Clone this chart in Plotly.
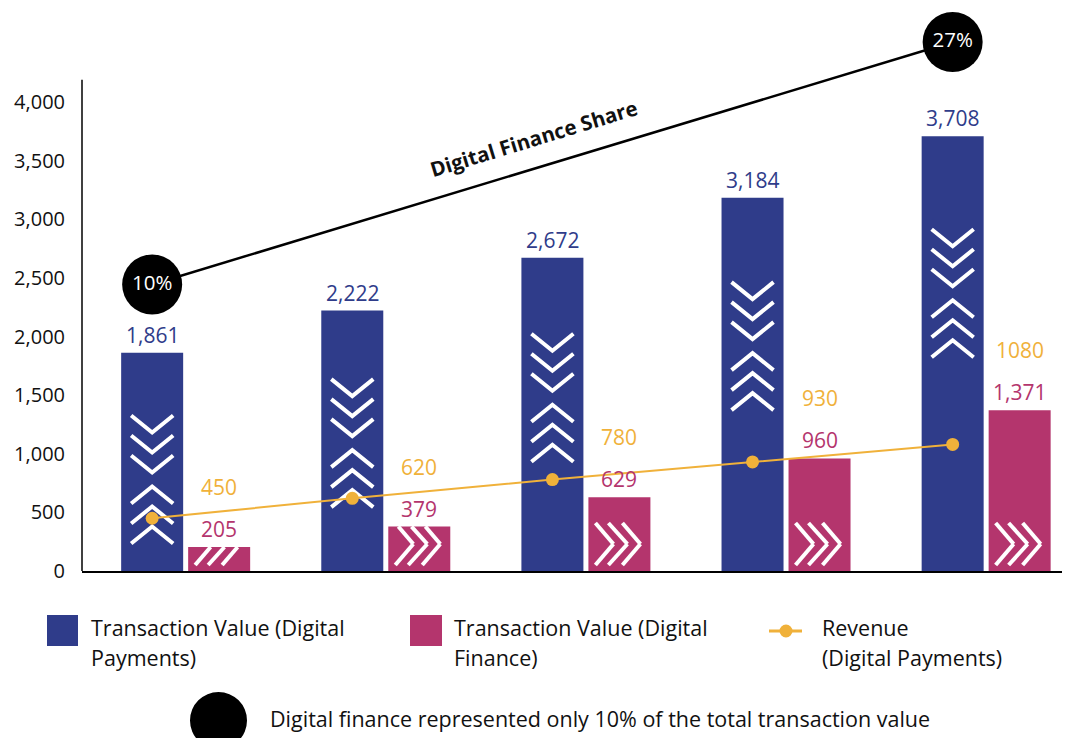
import plotly.graph_objects as go

# ---------------- data ----------------
digital_payments = [1861, 2222, 2672, 3184, 3708]   # Transaction Value (Digital Payments)
digital_finance = [205, 379, 629, 960, 1371]        # Transaction Value (Digital Finance)
revenue = [450, 620, 780, 930, 1080]                # Revenue (Digital Payments)
share_labels = ["10%", "27%"]                       # Digital finance share
share_idx = [0, 4]
y_ticks = [0, 500, 1000, 1500, 2000, 2500, 3000, 3500, 4000]

legend_blue = ["Transaction Value (Digital", "Payments)"]
legend_magenta = ["Transaction Value (Digital", "Finance)"]
legend_rev = ["Revenue", "(Digital Payments)"]
legend_note = "Digital finance represented only 10% of the total transaction value"
share_title = "Digital Finance Share"

# ---------------- style ----------------
BLUE = "#2F3C8A"
MAGENTA = "#B4356D"
ORANGE = "#F0B13A"
FONT = "Open Sans"

OFF = 8                       # page body margin
W, H = 1070 - OFF, 738 - OFF
ML, MR, MT = 82 - OFF, 0, 20 - OFF
MB = H - (571 - OFF)
XR = [-0.518, 4.419]
YR = [0, 4700]
PW = W - ML - MR
PH = H - MT - MB
UX = (XR[1] - XR[0]) / PW   # x units per pixel
UY = (YR[1] - YR[0]) / PH   # y units per pixel


def pxx(p):  # window pixel -> paper x
    return (p - OFF - ML) / PW


def pxy(p):  # window pixel -> paper y
    return (H - MB - (p - OFF)) / PH


BAR_W = 62 * UX
GAP = 5 * UX
x = list(range(len(digital_payments)))
xb = [i - (GAP / 2 + BAR_W / 2) for i in x]
xm = [i + (GAP / 2 + BAR_W / 2) for i in x]

fig = go.Figure()

fig.add_trace(go.Bar(x=x, y=digital_payments, width=BAR_W, offset=-(GAP / 2 + BAR_W),
                     marker=dict(color=BLUE, line=dict(width=0)), hoverinfo="skip",
                     name=" ".join(legend_blue)))
fig.add_trace(go.Bar(x=x, y=digital_finance, width=BAR_W, offset=GAP / 2,
                     marker=dict(color=MAGENTA, line=dict(width=0)), hoverinfo="skip",
                     name=" ".join(legend_magenta)))

# ---- decorative chevrons on blue bars (3 down, 3 up) ----
cx, cy = [], []
for xi, v in zip(xb, digital_payments):
    c = v * 0.86 - 820  # block centre, relative to bar height
    for k in range(3):
        arm = -64 + 20 * k
        tip = arm + 17
        for dx, dy in [(-21, arm), (0, tip), (21, arm)]:
            cx.append(xi + dx * UX)
            cy.append(c - dy * UY)
        cx.append(None); cy.append(None)
    for k in range(3):
        arm = 64 - 20 * k
        tip = arm - 17
        for dx, dy in [(-21, arm), (0, tip), (21, arm)]:
            cx.append(xi + dx * UX)
            cy.append(c - dy * UY)
        cx.append(None); cy.append(None)
fig.add_trace(go.Scatter(x=cx, y=cy, mode="lines", line=dict(color="white", width=4),
                         hoverinfo="skip", showlegend=False))

# ---- decorative right chevrons on magenta bars (clipped to bar) ----
mx, my = [], []


def clip_seg(p1, p2, lim):
    (x1, y1), (x2, y2) = p1, p2
    if y1 <= lim and y2 <= lim:
        return p1, p2
    if y1 > lim and y2 > lim:
        return None
    t = (lim - y1) / (y2 - y1)
    xc = x1 + t * (x2 - x1)
    if y1 > lim:
        return (xc, lim), p2
    return p1, (xc, lim)


for xi, v in zip(xm, digital_finance):
    for a, tp in [(-24, -6), (-11, 8), (3, 21)]:
        top = (xi + a * UX, 48 * UY)
        tip = (xi + tp * UX, 27 * UY)
        bot = (xi + a * UX, 6 * UY)
        for s in [(top, tip), (tip, bot)]:
            r = clip_seg(s[0], s[1], v)
            if r:
                mx += [r[0][0], r[1][0], None]
                my += [r[0][1], r[1][1], None]
fig.add_trace(go.Scatter(x=mx, y=my, mode="lines", line=dict(color="white", width=4),
                         hoverinfo="skip", showlegend=False))

# ---- revenue line ----
fig.add_trace(go.Scatter(x=xb, y=revenue, mode="lines+markers",
                         line=dict(color=ORANGE, width=2), marker=dict(color=ORANGE, size=13),
                         hoverinfo="skip", name=" ".join(legend_rev)))

# ---- digital finance share circles ----
sx = [xb[i] for i in share_idx]
sy = [digital_payments[i] * 1.12 + 360 for i in share_idx]
fig.add_trace(go.Scatter(x=sx, y=sy, mode="lines+markers+text", text=share_labels,
                         textposition="middle center",
                         textfont=dict(family=FONT, size=20.5, color="white"),
                         line=dict(color="black", width=2.5),
                         marker=dict(color="black", size=60), cliponaxis=False,
                         hoverinfo="skip", showlegend=False))

ann = []
for xi, v in zip(xb, digital_payments):
    ann.append(dict(x=xi, y=v, xref="x", yref="y", text=f"{v:,}", showarrow=False,
                    yanchor="bottom", yshift=2, font=dict(family=FONT, size=21, color=BLUE)))
for xi, v, r in zip(xm, digital_finance, revenue):
    ann.append(dict(x=xi, y=v, xref="x", yref="y", text=f"{v:,}", showarrow=False,
                    yanchor="bottom", yshift=2, font=dict(family=FONT, size=21, color=MAGENTA)))
    ann.append(dict(x=xi, y=v, xref="x", yref="y", text=f"{r}", showarrow=False,
                    yanchor="bottom", yshift=44, font=dict(family=FONT, size=21, color=ORANGE)))

# share title along the line
t = 0.4875
tx = sx[0] + t * (sx[1] - sx[0])
ty = sy[0] + t * (sy[1] - sy[0])
ann.append(dict(x=tx, y=ty, xref="x", yref="y", text=f"<b>{share_title}</b>", showarrow=False,
                textangle=-17, xshift=-8, yshift=28,
                font=dict(family=FONT, size=20.5, color="#111111")))

# ---- custom legend ----
shapes = [
    dict(type="line", xref="paper", yref="y", x0=0, x1=0, y0=0, y1=4190,
         line=dict(color="black", width=1.5)),
    dict(type="rect", xref="paper", yref="paper", x0=pxx(47), x1=pxx(78), y0=pxy(646), y1=pxy(615),
         fillcolor=BLUE, line=dict(width=0)),
    dict(type="rect", xref="paper", yref="paper", x0=pxx(410), x1=pxx(442), y0=pxy(646), y1=pxy(615),
         fillcolor=MAGENTA, line=dict(width=0)),
    dict(type="line", xref="paper", yref="paper", x0=pxx(769), x1=pxx(802), y0=pxy(631), y1=pxy(631),
         line=dict(color=ORANGE, width=3)),
    dict(type="circle", xref="paper", yref="paper", x0=pxx(779.5), x1=pxx(792.5),
         y0=pxy(637.5), y1=pxy(624.5), fillcolor=ORANGE, line=dict(width=0)),
    dict(type="circle", xref="paper", yref="paper", x0=pxx(190), x1=pxx(247),
         y0=pxy(749), y1=pxy(692), fillcolor="black", line=dict(width=0)),
]
for xp, lines in [(89, legend_blue), (452, legend_magenta), (820, legend_rev)]:
    for j, s in enumerate(lines):
        ann.append(dict(x=pxx(xp), y=pxy(627 + 30 * j), xref="paper", yref="paper", text=s,
                        showarrow=False, xanchor="left", yanchor="middle",
                        font=dict(family=FONT, size=21.5, color="#111111")))
ann.append(dict(x=pxx(268), y=pxy(718), xref="paper", yref="paper", text=legend_note,
                showarrow=False, xanchor="left", yanchor="middle",
                font=dict(family=FONT, size=21.5, color="#111111")))

fig.update_layout(
    width=W, height=H, margin=dict(l=ML, r=MR, t=MT, b=MB, pad=0),
    barmode="overlay", showlegend=False,
    plot_bgcolor="white", paper_bgcolor="white",
    font=dict(family=FONT, color="#111111"),
    annotations=ann, shapes=shapes,
    xaxis=dict(range=XR, showticklabels=False, showgrid=False, zeroline=False,
               showline=True, linecolor="black", linewidth=1.5, ticks=""),
    yaxis=dict(range=YR, tickvals=y_ticks, tickformat=",", showgrid=False, zeroline=False,
               showline=False, ticks="", ticklabelstandoff=16,
               tickfont=dict(family=FONT, size=20, color="#111111")),
)

fig.write_html("out.html")
